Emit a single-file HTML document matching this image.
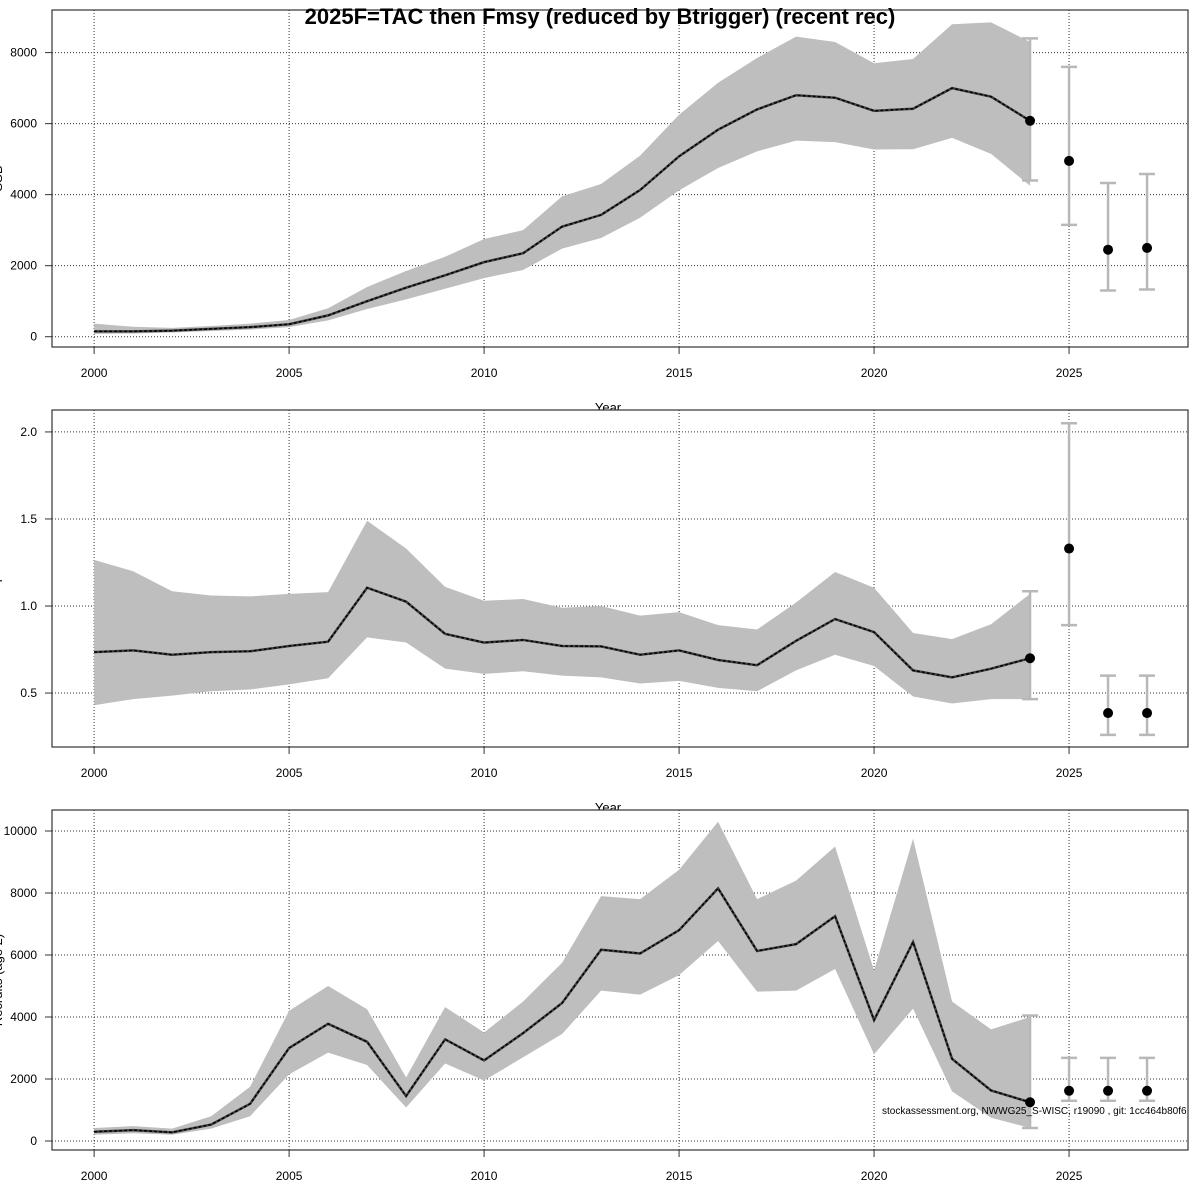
<!DOCTYPE html>
<html><head><meta charset="utf-8">
<style>
html,body{margin:0;padding:0;background:#fff;width:1200px;height:1200px;overflow:hidden}
svg{display:block;font-family:"Liberation Sans",sans-serif}
</style></head>
<body>
<svg id="chart" width="1200" height="1200" viewBox="0 0 1200 1200">
</svg>
<script>
const years = [2000,2001,2002,2003,2004,2005,2006,2007,2008,2009,2010,2011,2012,2013,2014,2015,2016,2017,2018,2019,2020,2021,2022,2023,2024];
const fcYears = [2024,2025,2026,2027];
const xTicks = [2000,2005,2010,2015,2020,2025];

const ssbMid = [150,150,170,220,270,350,600,1000,1380,1730,2100,2350,3100,3430,4130,5080,5830,6400,6800,6730,6360,6420,7000,6760,6080];
const ssbHi = [370,280,250,300,370,470,800,1400,1850,2250,2750,3000,3950,4300,5100,6250,7150,7850,8450,8300,7700,7820,8800,8850,8300];
const ssbLo = [80,90,120,160,200,270,460,780,1050,1350,1650,1880,2480,2780,3350,4120,4750,5220,5520,5480,5270,5280,5600,5150,4250];
const ssbFcMid = [6080,4950,2450,2500];
const ssbFcLo = [4400,3150,1300,1330];
const ssbFcHi = [8400,7600,4330,4580];
const ssbTicks = [0,2000,4000,6000,8000];

const fMid = [0.735,0.745,0.72,0.735,0.74,0.77,0.795,1.105,1.025,0.84,0.79,0.805,0.77,0.768,0.72,0.745,0.69,0.66,0.80,0.925,0.85,0.63,0.59,0.64,0.70];
const fHi = [1.265,1.2,1.085,1.06,1.055,1.07,1.08,1.49,1.33,1.11,1.03,1.04,0.99,1.0,0.945,0.965,0.89,0.865,1.02,1.195,1.105,0.845,0.81,0.895,1.07];
const fLo = [0.43,0.465,0.485,0.51,0.52,0.55,0.585,0.82,0.79,0.64,0.61,0.625,0.6,0.59,0.555,0.57,0.53,0.51,0.63,0.72,0.655,0.48,0.44,0.465,0.465];
const fFcMid = [0.70,1.33,0.385,0.385];
const fFcLo = [0.465,0.89,0.26,0.26];
const fFcHi = [1.085,2.05,0.6,0.6];
const fTicks = [0.5,1.0,1.5,2.0];
const fTickLabels = ["0.5","1.0","1.5","2.0"];

const recMid = [300,350,280,530,1200,3000,3780,3200,1450,3280,2600,3480,4450,6170,6050,6800,8150,6130,6350,7250,3900,6420,2650,1630,1250];
const recHi = [420,480,400,800,1750,4200,5000,4250,2050,4320,3500,4500,5750,7900,7800,8750,10300,7800,8400,9500,5500,9750,4500,3600,4000];
const recLo = [200,250,200,400,800,2150,2850,2450,1080,2500,1950,2700,3450,4850,4720,5350,6450,4820,4850,5550,2800,4270,1600,750,420];
const recFcMid = [1250,1620,1620,1620];
const recFcLo = [420,1300,1300,1300];
const recFcHi = [4050,2680,2680,2680];
const recTicks = [0,2000,4000,6000,8000,10000];

const NS="http://www.w3.org/2000/svg";
const svg=document.getElementById('chart');
function mk(tag,attrs,parent){const e=document.createElementNS(NS,tag);for(const k in attrs)e.setAttribute(k,attrs[k]);(parent||svg).appendChild(e);return e;}
const L=52,R=1188;
const xDom=[1998.92,2028.05];
function xs(v){return L+(v-xDom[0])/(xDom[1]-xDom[0])*(R-L);}

function panel(name,top,bot,yDom,ticks,tickLabels,mid,hi,lo,fMidA,fLoA,fHiA,ylab){
  const g=mk('g',{});
  
  
  const ys=v=>bot-(v-yDom[0])/(yDom[1]-yDom[0])*(bot-top);
  mk('rect',{x:L,y:top,width:R-L,height:bot-top,fill:'#fff'},g);
  xTicks.forEach(t=>{const l=mk('line',{x1:xs(t),x2:xs(t),y1:top,y2:bot,stroke:'#333','stroke-width':1,'stroke-dasharray':'1,2'},g);
    });
  ticks.forEach(t=>{const l=mk('line',{x1:L,x2:R,y1:ys(t),y2:ys(t),stroke:'#333','stroke-width':1,'stroke-dasharray':'1,2'},g);
    });
  let d='M'+years.map((y,i)=>xs(y)+','+ys(hi[i])).join('L');
  for(let i=years.length-1;i>=0;i--)d+='L'+xs(years[i])+','+ys(lo[i]);
  const band=mk('path',{d:d+'Z',fill:'#bebebe',stroke:'none'},g);
  
  const pts=years.map((y,i)=>xs(y)+','+ys(mid[i])).join(' ');
  const l1=mk('polyline',{points:pts,fill:'none',stroke:'#444','stroke-width':2.5},g);
  
  const l2=mk('polyline',{points:pts,fill:'none',stroke:'#000','stroke-width':1.5,'stroke-dasharray':'3,2'},g);
  
  fcYears.forEach((y,i)=>{
    const x=xs(y);
    const eb=mk('g',{},g);
    
    mk('line',{x1:x,x2:x,y1:ys(fLoA[i]),y2:ys(fHiA[i]),stroke:'#b8b8b8','stroke-width':2.5},eb);
    mk('line',{x1:x-8,x2:x+8,y1:ys(fLoA[i]),y2:ys(fLoA[i]),stroke:'#b8b8b8','stroke-width':2.5},eb);
    mk('line',{x1:x-8,x2:x+8,y1:ys(fHiA[i]),y2:ys(fHiA[i]),stroke:'#b8b8b8','stroke-width':2.5},eb);
    const c=mk('circle',{cx:x,cy:ys(fMidA[i]),r:5,fill:'#000'},g);
    
  });
  const b=mk('rect',{x:L,y:top,width:R-L,height:bot-top,fill:'none',stroke:'#333','stroke-width':1.2},g);
  
  xTicks.forEach(t=>{
    mk('line',{x1:xs(t),x2:xs(t),y1:bot,y2:bot+7,stroke:'#333'},g);
    const tx=mk('text',{x:xs(t),y:bot+30,'text-anchor':'middle','font-size':12},g);
    
    tx.textContent=t;
  });
  ticks.forEach((t,i)=>{
    mk('line',{x1:L-7,x2:L,y1:ys(t),y2:ys(t),stroke:'#333'},g);
    const tx=mk('text',{x:L-15,y:ys(t)+4,'text-anchor':'end','font-size':12},g);
    
    tx.textContent=tickLabels?tickLabels[i]:t;
  });
  const yl=mk('text',{x:0,y:0,transform:'translate(2,'+((top+bot)/2)+') rotate(-90)','text-anchor':'middle','font-size':13},g);
  
  yl.textContent=ylab;
  const xl=mk('text',{x:608,y:bot+65,'text-anchor':'middle','font-size':13},g);
  
  xl.textContent='Year';
}
panel('ssb',10,347,[-290,9200],ssbTicks,null,ssbMid,ssbHi,ssbLo,ssbFcMid,ssbFcLo,ssbFcHi,'SSB');
panel('fishing-mortality',410,747,[0.19,2.126],fTicks,fTickLabels,fMid,fHi,fLo,fFcMid,fFcLo,fFcHi,'F');
panel('recruits',810,1150,[-290,10677],recTicks,null,recMid,recHi,recLo,recFcMid,recFcLo,recFcHi,'Recruits (age 2)');
const ft=mk('text',{x:882,y:1114,'font-size':10});

ft.textContent='stockassessment.org, NWWG25_S-WISC, r19090 , git: 1cc464b80f6';
const tt=mk('text',{x:600,y:24,'text-anchor':'middle','font-size':22,'font-weight':'bold'});

tt.textContent='2025F=TAC then Fmsy (reduced by Btrigger) (recent rec)';
</script>
</body></html>
